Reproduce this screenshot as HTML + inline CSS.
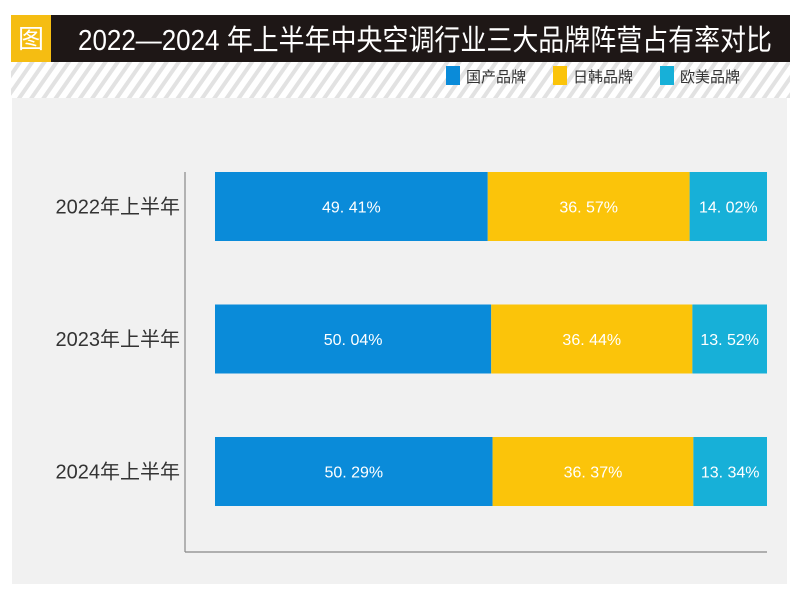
<!DOCTYPE html>
<html><head><meta charset="utf-8"><style>
html,body{margin:0;padding:0;background:#fff;}
svg{display:block;font-family:"Liberation Sans","Noto Sans CJK SC",sans-serif;}
</style></head><body>
<svg id="chart" width="800" height="600" viewBox="0 0 800 600" xmlns="http://www.w3.org/2000/svg">
<defs>
<pattern id="stripes" width="10" height="10" patternUnits="userSpaceOnUse" patternTransform="rotate(35)">
<rect width="10" height="10" fill="#ffffff"/><rect width="4" height="10" fill="#e2e2e2"/>
</pattern>
</defs>
<rect x="0" y="0" width="800" height="600" fill="#fff"/>
<rect x="11" y="15" width="779" height="47" fill="#1e1716"/>
<rect x="11" y="15" width="40" height="47" fill="#f5bd12"/>
<text x="31" y="48" font-size="26" fill="#fff" text-anchor="middle">图</text>
<text x="78" y="50" font-size="29" fill="#fff" textLength="694" lengthAdjust="spacingAndGlyphs">2022—2024 年上半年中央空调行业三大品牌阵营占有率对比</text>
<rect x="11" y="62" width="779" height="36" fill="url(#stripes)"/>
<rect x="12" y="98" width="775" height="486" fill="#f1f1f1"/>
<g id="legend"></g>
<g id="bars"></g>
<line x1="185" y1="172" x2="185" y2="552" stroke="#888" stroke-width="1.2"/>
<line x1="185" y1="552" x2="767" y2="552" stroke="#888" stroke-width="1.2"/>
</svg>
<script>
const categories = ["2022年上半年","2023年上半年","2024年上半年"];
const seriesNames = ["国产品牌","日韩品牌","欧美品牌"];
const domestic = [49.41, 50.04, 50.29];
const jpKr = [36.57, 36.44, 36.37];
const euUs = [14.02, 13.52, 13.34];
const series = [domestic, jpKr, euUs];
const colors = ["#0a8bd9","#fbc40a","#17b0d8"];
const NS = "http://www.w3.org/2000/svg";
const x0 = 215, x1 = 767;
const xScale = v => (x1 - x0) * v / 100;
const rowTop = i => 172 + i * 132.5;
const barH = 69;
const bars = document.getElementById('bars');
function mk(tag, attrs){const e=document.createElementNS(NS,tag);for(const k in attrs)e.setAttribute(k,attrs[k]);return e;}
categories.forEach((c,i)=>{
  const y = rowTop(i);
  let total = 0; series.forEach(s=>total+=s[i]);
  let x = x0;
  series.forEach((s,j)=>{
    const w = xScale(s[i]/total*100);
    const r = mk('rect',{x:x,y:y,width:w,height:barH,fill:colors[j]});
    
    
    bars.appendChild(r);
    const t = mk('text',{x:x+w/2,y:y+barH/2+6,'font-size':16,fill:'#fff','text-anchor':'middle'});
    t.textContent = s[i].toFixed(2).replace('.', '. ') + '%';
    
    
    bars.appendChild(t);
    x += w;
  });
  const lab = mk('text',{x:180,y:y+barH/2+7,'font-size':20,fill:'#333','text-anchor':'end'});
  lab.textContent = c;
  
  
  bars.appendChild(lab);
});
const legend = document.getElementById('legend');
const lx = [446, 553, 660];
seriesNames.forEach((n,j)=>{
  const r = mk('rect',{x:lx[j],y:66,width:14,height:19,fill:colors[j]});
  
  
  legend.appendChild(r);
  const t = mk('text',{x:lx[j]+20,y:82,'font-size':15,fill:'#333'});
  t.textContent = n;
  
  
  legend.appendChild(t);
});
</script>
</body></html>
